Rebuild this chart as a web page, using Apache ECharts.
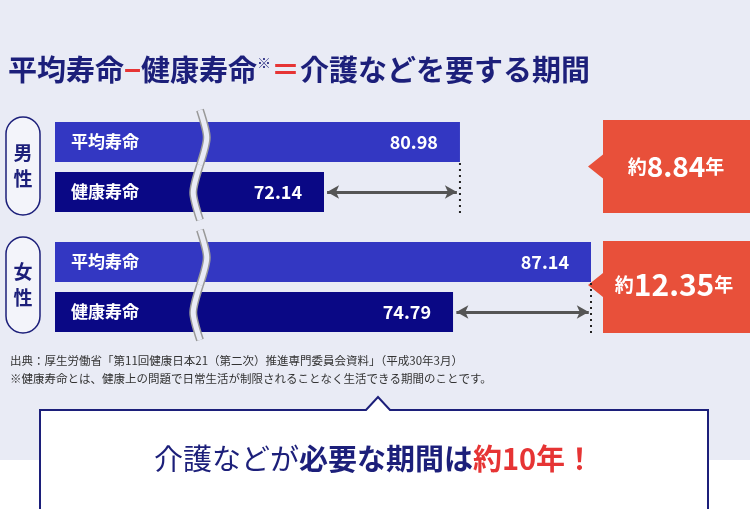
<!DOCTYPE html>
<html><head><meta charset="utf-8">
<script src="https://cdn.jsdelivr.net/npm/echarts@6/dist/echarts.min.js"></script>
<style>html,body{margin:0;padding:0;background:#fff}#c{width:750px;height:509px}</style>
</head><body><div id="c"></div>
<script>
const categories = ['平均寿命', '健康寿命'];
const maleValues = [80.98, 72.14];
const femaleValues = [87.14, 74.79];
const genderLabels = ['男性', '女性'];

const F = '"Noto Sans CJK JP","Noto Sans",sans-serif';
const navy = '#1c1f7a', avgC = '#3337c2', hC = '#0a0885', red = '#e8503a';
const chart = echarts.init(document.getElementById('c'));

function grid(top){ return {left:55, width:536, top:top, height:100}; }
function xa(i,min,max){ return {gridIndex:i, type:'value', min:min, max:max, show:false}; }
function ya(i){ return {gridIndex:i, type:'category', data:categories, inverse:true, show:false}; }
function bars(i, vals){
  return [{
    type:'bar', xAxisIndex:i, yAxisIndex:i, barWidth:40, z:2,
    data: vals.map((v,k)=>({value:v, itemStyle:{color:k===0?avgC:hC}})),
    label:{show:true, position:'insideRight', distance:22, color:'#fff', fontFamily:F, fontSize:18, fontWeight:'bold', formatter:p=>p.value.toFixed(2)},
    markLine:{silent:true, symbol:['arrow','arrow'], symbolSize:[10,12], label:{show:false},
      lineStyle:{color:'#555', width:3, type:'solid'},
      data:[[{coord:[vals[1]+(i?0.3:0.2),1]},{coord:[vals[0]-0.2,1]}]]}
  },{
    type:'bar', xAxisIndex:i, yAxisIndex:i, barWidth:40, barGap:'-100%', z:3,
    data: vals, itemStyle:{color:'rgba(0,0,0,0)'},
    label:{show:true, position:'insideLeft', distance:16, color:'#fff', fontFamily:F, fontSize:17, fontWeight:'bold', formatter:p=>p.name}
  }];
}
const diffs = [maleValues[0]-maleValues[1], femaleValues[0]-femaleValues[1]];

chart.setOption({
  animation:false,
  grid:[grid(117), grid(237)],
  xAxis:[xa(0,54.65,89.5), xa(1,39.16,87.14)],
  yAxis:[ya(0), ya(1)],
  series:[...bars(0,maleValues), ...bars(1,femaleValues)]
});

const g = [];
g.push({type:'rect', z:-10, shape:{x:0,y:0,width:750,height:460}, style:{fill:'#e9ebf5'}});
g.push({type:'text', style:{x:8, y:70, verticalAlign:'middle',
  rich:{t:{fontSize:29,fontWeight:'bold',fill:navy,fontFamily:F}, r:{fontSize:29,fontWeight:'bold',fill:'#e63434',fontFamily:F}, s:{fontSize:14,fill:navy,fontFamily:F,verticalAlign:'top',padding:[0,0,14,0]}},
  text:'{t|平均寿命}{r|−}{t|健康寿命}{s|※}{r|＝}{t|介護などを要する期間}'}});
[[117,215],[237,333]].forEach((r,i)=>{
  g.push({type:'rect', shape:{x:6,y:r[0],width:34,height:r[1]-r[0],r:17}, style:{fill:'#f3f4fa',stroke:navy,lineWidth:1.5}});
  g.push({type:'text', style:{x:23,y:(r[0]+r[1])/2,text:genderLabels[i][0]+'\n'+genderLabels[i][1],align:'center',verticalAlign:'middle',fontSize:19,fontWeight:'bold',fill:navy,fontFamily:F,lineHeight:26}});
});
[[0,maleValues[0]],[1,femaleValues[0]]].forEach(([i,v])=>{
  const p = chart.convertToPixel({xAxisIndex:i,yAxisIndex:i},[v,0]);
  g.push({type:'line', z:5, shape:{x1:p[0],y1:p[1]+21,x2:p[0],y2:p[1]+74}, style:{stroke:'#222',lineWidth:2,lineDash:[2,4]}});
});
[[120,213],[241,333]].forEach((r,i)=>{
  const cy=(r[0]+r[1])/2+(i?-2:0);
  g.push({type:'polygon', shape:{points:[[603,r[0]],[750,r[0]],[750,r[1]],[603,r[1]],[603,cy+12],[588,cy],[603,cy-12]]}, style:{fill:red}});
  g.push({type:'text', style:{x:676+(i?-2:0),y:cy,align:'center',verticalAlign:'middle',
    rich:{a:{fontSize:19,fontWeight:'bold',fill:'#fff',fontFamily:F},b:{fontSize:i?30:28,fontWeight:'bold',fill:'#fff',fontFamily:F}},
    text:'{a|約}{b|'+diffs[i].toFixed(2)+'}{a|年}'}});
});
function wave(x0,y0,y1,stroke,w,z){
  const h=(y1-y0)/2;
  g.push({type:'bezierCurve', z:z, shape:{x1:x0,y1:y0,x2:x0,y2:y0+h,cpx1:x0+9,cpy1:y0+h*0.5,cpx2:x0+9,cpy2:y0+h*0.5}, style:{fill:null,stroke:stroke,lineWidth:w}});
  g.push({type:'bezierCurve', z:z, shape:{x1:x0,y1:y0+h,x2:x0,y2:y1,cpx1:x0-9,cpy1:y0+h*1.5,cpx2:x0-9,cpy2:y0+h*1.5}, style:{fill:null,stroke:stroke,lineWidth:w}});
}
[[110,220],[230,340]].forEach(r=>{ wave(200,r[0],r[1],'#999',8,10); wave(200,r[0],r[1],'#e9ebf5',5,11); });
g.push({type:'text', style:{x:10, y:352, text:'出典：厚生労働省「第11回健康日本21（第二次）推進専門委員会資料」（平成30年3月）\n※健康寿命とは、健康上の問題で日常生活が制限されることなく生活できる期間のことです。',fontSize:11.5,lineHeight:18,fill:'#333',fontFamily:F}});
g.push({type:'polygon', z:20, shape:{points:[[40,410],[366,410],[378,397],[390,410],[708,410],[708,512],[40,512]]}, style:{fill:'#fff',stroke:navy,lineWidth:2}});
g.push({type:'text', z:21, style:{x:374,y:459,align:'center',verticalAlign:'middle',
  rich:{n:{fontSize:29,fill:navy,fontFamily:F},b:{fontSize:29,fontWeight:'bold',fill:navy,fontFamily:F},r:{fontSize:29,fontWeight:'bold',fill:'#e63434',fontFamily:F}},
  text:'{n|介護などが}{b|必要な期間は}{r|約10年！}'}});
chart.setOption({graphic:g});
</script></body></html>
